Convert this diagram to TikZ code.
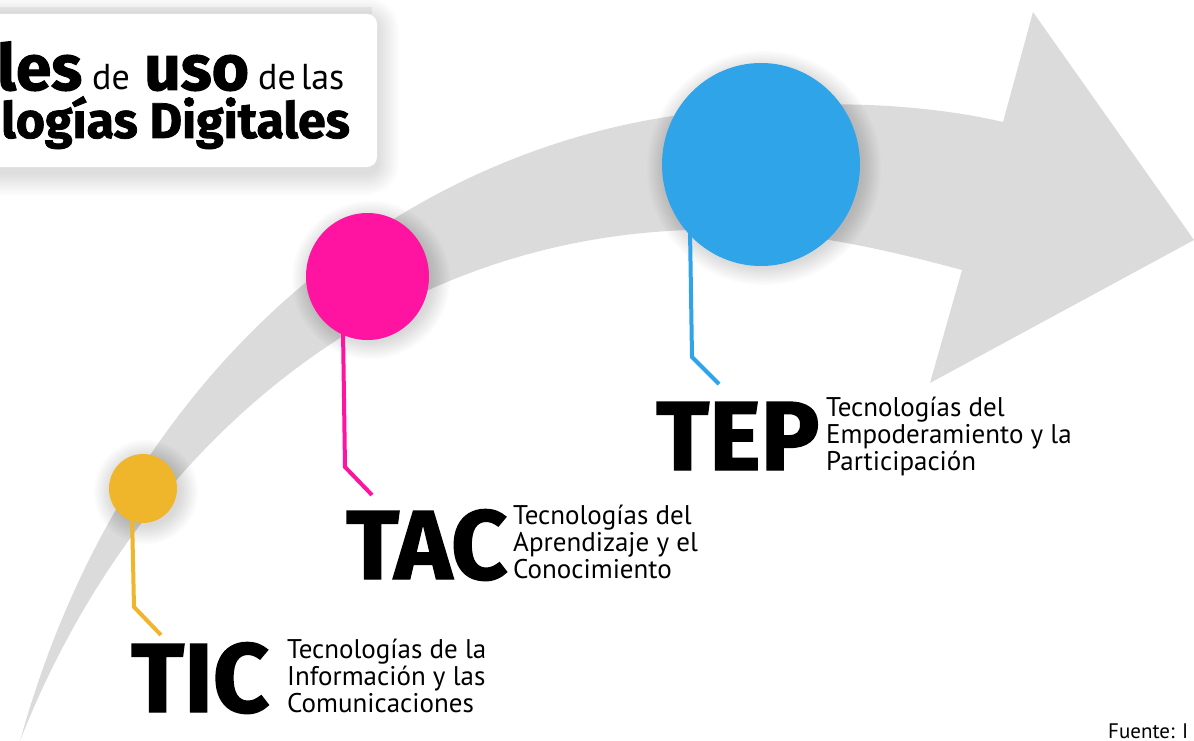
\documentclass[tikz,border=0pt]{standalone}
\usepackage{fontspec}
\setmainfont{Noto Sans}
\newfontfamily\blkf{Fira Sans}[BoldFeatures={FakeBold=1.5}]
\newcommand{\blk}{\blkf\bfseries}
\newfontfamily\lgt{PT Sans}
\usetikzlibrary{shapes.geometric}
\definecolor{tray}{HTML}{DBDBDB}
\definecolor{cyel}{HTML}{EFB52B}
\definecolor{cpin}{HTML}{FF13A0}
\definecolor{cblu}{HTML}{30A4E8}
\tikzset{
 x=1pt,y=-1pt,
 dot/.style={ellipse,inner sep=0pt,outer sep=0pt},
 stem/.style={line width=4pt,line join=miter},
 big/.style={anchor=base west,inner sep=0pt,font=\blk\fontsize{98}{98}\selectfont},
 desc/.style={anchor=north west,inner sep=0pt,align=left,font=\lgt\fontsize{27}{26.8}\selectfont},
 ttlb/.style={anchor=base west,inner sep=0pt,font=\blk\fontsize{64}{64}\selectfont},
 ttll/.style={anchor=base west,inner sep=0pt,font=\lgt\fontsize{36}{36}\selectfont}
}
\begin{document}
\begin{tikzpicture}
\useasboundingbox (0,0) rectangle (1194,741);
\clip (0,0) rectangle (1194,741);
\fill[tray] (20,741) .. controls (120,380) and (380,165) .. (660,118) .. controls (770,100) and (900,98) .. (1003,122)
 -- (1033,12) -- (1194,240) -- (930,383) -- (962,270)
 .. controls (880,248) and (790,227) .. (690,230) .. controls (370,240) and (130,460) .. (20,741) -- cycle;
\fill[black!5] (-30,7) rectangle (372,14);
\foreach \o in {2,4,...,22}{\fill[black,opacity=.012,rounded corners=10pt+\o] (-60,14-\o+6) rectangle (377+\o,167+\o+6);}
\fill[white,rounded corners=10pt] (-30,14) rectangle (377,167);
\node[ttlb] (t1) at (-3,90) {les};
\node[ttll] (t2) at (92,90) {de};
\node[ttlb] (t3) at (144,90) {uso};
\node[ttll] (t4) at (258,90) {de\hspace{5pt}las};
\node[anchor=base west,inner sep=0pt,font=\blk\fontsize{50}{50}\selectfont] (t5) at (1,138) {logías Digitales};
\foreach \o in {2,4,...,20}{
 \fill[black,opacity=.016] (143+3,488+4) circle[radius=32+\o];
 \fill[black,opacity=.016] (368+3,276+4) circle[radius=59+\o];
 \fill[black,opacity=.014] (761+3,164+4) circle[radius=97+\o];}
\coordinate (a1) at (134,607); \coordinate (a2) at (161,635);
\coordinate (b1) at (345,467); \coordinate (b2) at (372,495);
\coordinate (c1) at (692,357); \coordinate (c2) at (719,384);
\coordinate (a0) at (132,515); \coordinate (b0) at (343,330); \coordinate (c0) at (690,230);
\draw[stem,cyel] (a0) -- (a1) -- (a2);
\draw[stem,cpin] (b0) -- (b1) -- (b2);
\draw[stem,cblu] (c0) -- (c1) -- (c2);
\node[dot,fill=cyel,minimum width=68pt,minimum height=69pt] (a) at (143,488.5) {};
\node[dot,fill=cpin,minimum width=123pt,minimum height=127pt] (b) at (367.5,276.5) {};
\node[dot,fill=cblu,minimum width=198pt,minimum height=203pt] (c) at (761,164.5) {};
\node[big] (tic) at (131,712) {TIC};
\node[big] (tac) at (346,579) {TAC};
\node[big] (tep) at (656,470) {TEP};
\node[desc] (dtic) at (287,639) {Tecnologías de la\\Información y las\\Comunicaciones};
\node[desc] (dtac) at (513,505) {Tecnologías del\\Aprendizaje y el\\Conocimiento};
\node[desc] (dtep) at (826,397) {Tecnologías del\\Empoderamiento y la\\Participación};
\node[anchor=base west,inner sep=0pt,font=\lgt\fontsize{21}{21}\selectfont] (src) at (1108,738) {Fuente: I};
\end{tikzpicture}
\end{document}
